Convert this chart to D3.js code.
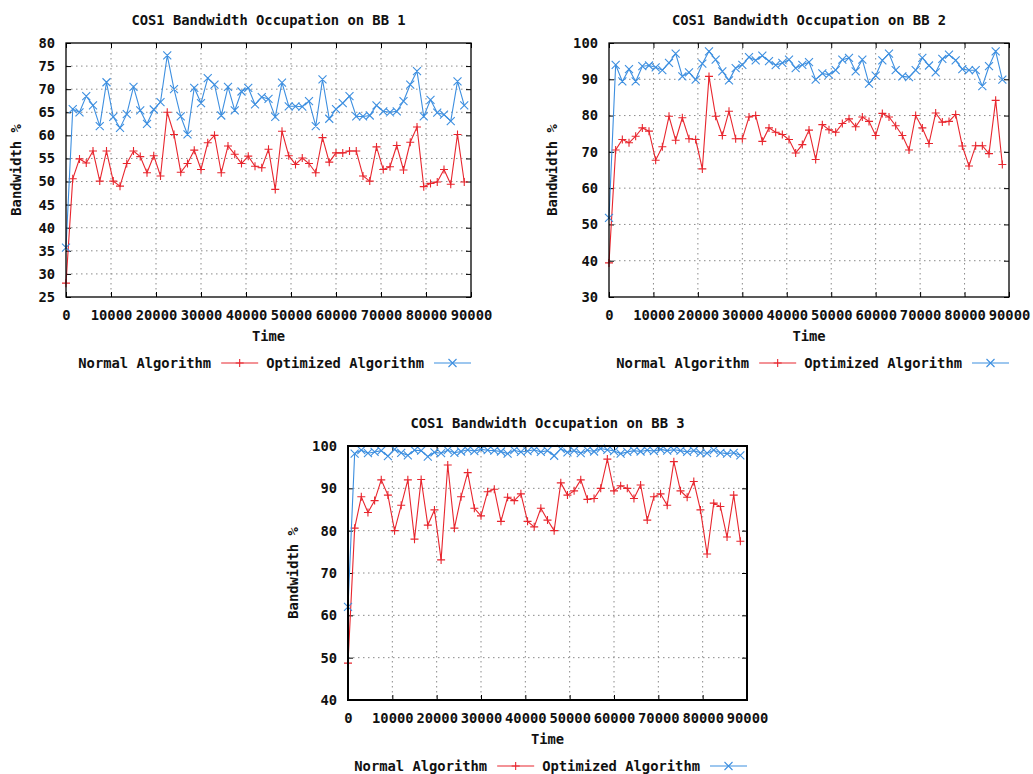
<!DOCTYPE html>
<html lang="en">
  <head>
    <title>COS1 Bandwidth Occupation</title>
    <meta charset="utf-8">
    <style>
      body { margin: 0; background: #fff; }
      svg text { font-family: "DejaVu Sans Mono", "Liberation Mono", monospace; font-weight: bold; font-size: 13.8px; fill: #111; }
      .grid line { stroke: #8a8a8a; stroke-dasharray: 1.5,3.5; stroke-width: 1; }
      .axis path { display: none; }
      .axis line { stroke: #000; }
    </style>
  </head>
  <body>
    <svg width="1033" height="774"></svg>
    <script src="https://d3js.org/d3.v7.min.js"></script>
    <script>
      // sample times (same for every BB)
      var times = [0,1500,3000,4500,6000,7500,9000,10500,12000,13500,15000,16500,18000,19500,21000,22500,24000,25500,27000,28500,
                   30000,31500,33000,34500,36000,37500,39000,40500,42000,43500,45000,46500,48000,49500,51000,52500,54000,55500,57000,58500,
                   60000,61500,63000,64500,66000,67500,69000,70500,72000,73500,75000,76500,78000,79500,81000,82500,84000,85500,87000,88500];
      var xTicks = [0,10000,20000,30000,40000,50000,60000,70000,80000,90000];

      var bb1Normal = [28,50.6,54.9,54,56.6,50.1,56.6,50.1,49,53.9,56.6,55.4,51.9,55.6,51.2,65,60.2,52,53.9,56.8,
                       52.6,58.4,60,51.9,57.7,55.9,53.9,55.5,53.3,53,57,48.3,60.9,55.6,53.7,55.1,53.9,51.9,59.5,54.2,
                       56.2,56.2,56.6,56.6,51.2,50.1,57.5,52.6,53.2,57.8,52.5,58.5,61.8,48.9,49.6,49.9,52.6,49.4,60.2,49.9];
      var bb1Optimized = [35.7,65.7,65,68.5,66.5,62,71.5,64,61.6,64.6,70.5,65.4,62.5,65.6,67.2,77.3,70,64.1,60.2,70.3,
                          67,72.4,71,64.3,70.5,65.4,69.5,70.3,66.7,68.3,67.9,64,71.4,66.3,66.3,66.2,67.4,62,72.1,63.6,
                          65.7,67,68.5,64.1,64.1,64.3,66.5,65.2,65,65.2,67.4,71,73.9,64.1,67.7,64.9,64.5,63.1,71.7,66.5];
      var bb1YTicks = [25,30,35,40,45,50,55,60,65,70,75,80];

      var bb2Normal = [39.4,70.5,73.4,72.5,74.3,76.6,75.7,67.7,71.4,79.8,73.2,79.4,73.6,73.4,65.3,90.8,79.8,74.5,81.2,73.6,
                       73.6,79.6,80,72.9,76.6,75.4,74.8,73.4,69.7,72,76,67.9,77.5,76.1,75.4,77.8,79.1,76.9,79.6,78.4,
                       74.5,80.6,79.6,77.2,74.5,70.5,80,76.6,72.3,80.7,78.2,78.4,80.3,71.6,66.1,71.7,71.7,69.5,84.2,66.5];
      var bb2Optimized = [51.8,94,89.4,92.8,89.4,93.6,93.8,93.3,92.5,94.5,97.1,90.8,91.9,89.9,94.3,97.7,95.4,92.2,89.7,93.1,
                          94,96.1,95.2,96.5,95,93.9,94.5,95.4,93.1,94,94.7,89.9,91.6,91.3,92.5,95.4,95.9,92.2,95.4,88.8,
                          91,95.2,97.1,92.5,90.8,90.6,92.5,95.9,93.8,91.9,95.6,96.8,95.2,92.8,92.5,92.5,88.1,93.6,97.7,89.9];
      var bb2YTicks = [30,40,50,60,70,80,90,100];

      var bb3Normal = [48.7,80.6,88,84.3,87.1,92,88.4,80,86,92,78,92.1,81.3,84.9,73.1,95.5,80.6,88,93.7,85.3,
                       83.5,89.2,89.8,82.2,87.9,87.1,88.7,82.2,80.9,85.3,82.5,80,91.3,88.4,89.4,92,87.4,87.6,90,96.9,
                       89.4,90.6,90,87.6,90.8,82.5,88,88.7,86,96.3,89.4,87.9,91.6,84.9,74.5,86.5,85.7,78.5,88.4,77.5];
      var bb3Optimized = [62,98.2,99,98.3,98.6,98.9,97.6,99.2,98.4,97.8,99,98.9,97.5,98.5,98.3,99,98.4,98.7,99.1,98.8,
                          99.2,99,98.9,98.7,98.2,99,98.6,98.8,99.1,98.6,98.9,97.7,99.3,98.5,98.9,98.3,99,98.7,99.4,99.1,
                          98.8,98.2,98.6,98.9,98.7,99,98.8,99.2,98.9,99.1,98.9,98.6,98.9,98.4,98.3,99,98.4,98.2,98.4,97.8];
      var bb3YTicks = [40,50,60,70,80,90,100];

      var red = "#e8262e", blue = "#3d8fe0";

      var panels = [
        {title: "COS1 Bandwidth Occupation on BB 1", normal: bb1Normal, optimized: bb1Optimized, yTicks: bb1YTicks,
         left: 66, top: 43, width: 405, height: 254, yLabelX: 16, border: 1.3},
        {title: "COS1 Bandwidth Occupation on BB 2", normal: bb2Normal, optimized: bb2Optimized, yTicks: bb2YTicks,
         left: 609, top: 43, width: 400, height: 254, yLabelX: 552, border: 1.3},
        {title: "COS1 Bandwidth Occupation on BB 3", normal: bb3Normal, optimized: bb3Optimized, yTicks: bb3YTicks,
         left: 348, top: 446, width: 399, height: 254, yLabelX: 293, border: 2}
      ];

      var svg = d3.select("svg");

      function plusPath(x, y) { return "M" + (x-4) + "," + y + "H" + (x+4) + "M" + x + "," + (y-4) + "V" + (y+4); }
      function crossPath(x, y) { return "M" + (x-4) + "," + (y-4) + "L" + (x+4) + "," + (y+4) + "M" + (x-4) + "," + (y+4) + "L" + (x+4) + "," + (y-4); }

      panels.forEach(function(p) {
        var x = d3.scaleLinear().domain([0, 90000]).range([p.left, p.left + p.width]);
        var y = d3.scaleLinear().domain(d3.extent(p.yTicks)).range([p.top + p.height, p.top]);
        var g = svg.append("g");

        // title
        g.append("text").attr("x", p.left + p.width / 2).attr("y", p.top - 18)
          .attr("text-anchor", "middle").text(p.title);

        // grid
        g.append("g").attr("class", "grid").selectAll("line")
          .data(xTicks.slice(1, -1)).enter().append("line")
          .attr("x1", d => x(d)).attr("x2", d => x(d))
          .attr("y1", p.top).attr("y2", p.top + p.height);
        g.append("g").attr("class", "grid").selectAll("line")
          .data(p.yTicks.slice(1, -1)).enter().append("line")
          .attr("x1", p.left).attr("x2", p.left + p.width)
          .attr("y1", d => y(d)).attr("y2", d => y(d));

        // axes, ticks pointing inward, mirrored on top/right
        g.append("g").attr("class", "axis").attr("transform", "translate(0," + (p.top + p.height) + ")")
          .call(d3.axisBottom(x).tickValues(xTicks).tickSize(-5).tickPadding(13).tickFormat(d3.format("d")));
        g.append("g").attr("class", "axis").attr("transform", "translate(0," + p.top + ")")
          .call(d3.axisTop(x).tickValues(xTicks).tickSize(-5).tickFormat(""));
        g.append("g").attr("class", "axis").attr("transform", "translate(" + p.left + ",0)")
          .call(d3.axisLeft(y).tickValues(p.yTicks).tickSize(-5).tickPadding(11).tickFormat(d3.format("d")));
        g.append("g").attr("class", "axis").attr("transform", "translate(" + (p.left + p.width) + ",0)")
          .call(d3.axisRight(y).tickValues(p.yTicks).tickSize(-5).tickFormat(""));
        g.selectAll(".axis text").attr("fill", "#111");

        // axis titles
        g.append("text").attr("x", p.left + p.width / 2).attr("y", p.top + p.height + 44)
          .attr("text-anchor", "middle").text("Time");
        g.append("text").attr("transform", "translate(" + p.yLabelX + "," + (p.top + p.height / 2) + ") rotate(-90)")
          .attr("text-anchor", "middle").attr("dy", "0.35em").text("Bandwidth %");

        // series
        var series = [
          {values: p.normal, color: red, marker: plusPath},
          {values: p.optimized, color: blue, marker: crossPath}
        ];
        var line = d3.line().x((d, i) => x(times[i])).y(d => y(d));
        series.forEach(function(s) {
          g.append("path").datum(s.values).attr("d", line)
            .attr("fill", "none").attr("stroke", s.color).attr("stroke-width", 1.1);
          g.append("path")
            .attr("d", s.values.map((d, i) => s.marker(x(times[i]), y(d))).join(""))
            .attr("fill", "none").attr("stroke", s.color).attr("stroke-width", 1.1);
        });

        // border
        g.append("rect").attr("x", p.left).attr("y", p.top).attr("width", p.width).attr("height", p.height)
          .attr("fill", "none").attr("stroke", "#000").attr("stroke-width", p.border);

        // legend, right aligned with plot
        var ly = p.top + p.height + 71;
        var right = p.left + p.width;
        var legendItems = [
          {label: "Optimized Algorithm", color: blue, marker: crossPath},
          {label: "Normal Algorithm", color: red, marker: plusPath}
        ];
        legendItems.forEach(function(item) {
          var lineEnd = right, lineStart = right - 37, cy = ly - 5;
          g.append("line").attr("x1", lineStart).attr("x2", lineEnd).attr("y1", cy).attr("y2", cy)
            .attr("stroke", item.color).attr("stroke-width", 1.1);
          g.append("path").attr("d", item.marker((lineStart + lineEnd) / 2, cy))
            .attr("fill", "none").attr("stroke", item.color).attr("stroke-width", 1.1);
          var t = g.append("text").attr("x", lineStart - 10).attr("y", ly)
            .attr("text-anchor", "end").text(item.label);
          right = lineStart - 10 - t.node().getComputedTextLength() - 8;
        });
      });
    </script>
  </body>
</html>
